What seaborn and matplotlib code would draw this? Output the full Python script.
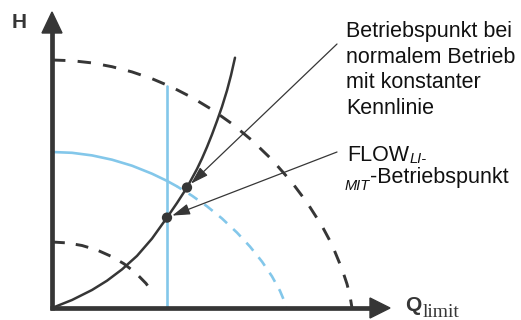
import matplotlib
matplotlib.use("Agg")
import matplotlib.pyplot as plt
from matplotlib.patches import Polygon
import seaborn as sns

# Pump characteristic curves (Q = flow, H = head), schematic units
outer_q = [0, 20, 40, 60, 80, 100, 120, 140, 160, 180, 200, 220, 240, 255,
           270, 280, 290, 295, 298, 300]
outer_h = [248, 247.3, 245.1, 241.3, 236.1, 229.3, 220.8, 210.5, 198.4, 184.2,
           167.6, 148.3, 125.5, 105.5, 82, 63.3, 39, 24, 12, 0]

limited_solid_q = [0, 20, 40, 60, 80, 100, 115, 125]
limited_solid_h = [156, 155.2, 152.6, 148.3, 142.3, 134.3, 127.1, 121.6]
limited_dash_q = [125, 140, 155, 170, 185, 198, 210, 220, 228, 232, 234]
limited_dash_h = [121.6, 112.3, 101.7, 89.5, 75.4, 61.4, 46.4, 31.6, 17.1, 7.6, 0]

small_q = [0, 15, 30, 45, 60, 72, 84, 94, 101]
small_h = [66, 65.1, 62.5, 58, 51.3, 44.2, 34.8, 24.6, 15]

# System (pipe network) characteristic
system_q = [0, 10, 20, 30, 40, 55, 70, 85, 100, 115, 125, 135, 145, 150, 155,
            160, 165, 170, 175, 179, 183]
system_h = [0, 4, 8, 13, 18, 27.3, 38.6, 52.1, 69.4, 90.4, 105, 120.5, 139,
            149.5, 161, 173.5, 187, 201.3, 217.5, 232.7, 250.3]

# Flow limit
limit_q = [115, 115]
limit_h = [0, 222]

# Operating points: normal operation, FLOW_LIMIT
op_q = [135, 115]
op_h = [120.5, 90.4]

DARK = "#363636"
BLUE = "#83c7ea"
TEXT = "#111111"

sns.set_theme(style="white")
plt.rcParams["font.family"] = ["Liberation Sans", "DejaVu Sans"]

fig = plt.figure(figsize=(5.21, 3.2), dpi=100)
ax = fig.add_axes([0, 0, 1, 1])
ax.set_xlim(-52, 469)
ax.set_ylim(-12, 308)
ax.axis("off")

# Curves
sns.lineplot(x=outer_q, y=outer_h, estimator=None, sort=False, color=DARK,
             lw=2.1, linestyle=(0, (4.6, 4.2)), ax=ax)
sns.lineplot(x=small_q, y=small_h, estimator=None, sort=False, color=DARK,
             lw=2.1, linestyle=(0, (4.4, 3.8)), ax=ax)
sns.lineplot(x=limited_solid_q, y=limited_solid_h, estimator=None, sort=False,
             color=BLUE, lw=1.9, ax=ax)
sns.lineplot(x=limited_dash_q, y=limited_dash_h, estimator=None, sort=False,
             color=BLUE, lw=1.9, linestyle=(2, (4.0, 3.2)), ax=ax)
sns.lineplot(x=limit_q, y=limit_h, estimator=None, sort=False,
             color=BLUE, lw=1.9, ax=ax)
sns.lineplot(x=system_q, y=system_h, estimator=None, sort=False, color=DARK,
             lw=1.8, ax=ax)
sns.scatterplot(x=op_q, y=op_h, color=DARK, s=55, edgecolor="none", zorder=5, ax=ax)

# Axes with arrow heads
ax.plot([0, 0], [-2, 276], color=DARK, lw=3.4, solid_capstyle="butt", zorder=6)
ax.plot([-2.4, 319], [0, 0], color=DARK, lw=3.4, solid_capstyle="butt", zorder=6)
ax.add_patch(Polygon([[-10, 275], [10, 275], [0, 296]], closed=True,
                     color=DARK, zorder=6))
ax.add_patch(Polygon([[318, -10], [318, 10], [338, 0]], closed=True,
                     color=DARK, zorder=6))

ax.text(-40, 280, "H", fontsize=15, fontweight="bold", color=DARK,
        ha="left", va="baseline")
ax.text(353, -3, "Q", fontsize=15, fontweight="bold", color=DARK,
        ha="left", va="baseline")
ax.text(371, -9, "limit", fontsize=14, color=DARK, ha="left", va="baseline",
        family=["Liberation Serif", "DejaVu Serif"])

# Annotations
arrow = dict(arrowstyle="-|>,head_length=0.9,head_width=0.28", color=DARK,
             lw=0.9, shrinkA=0, shrinkB=4)
ax.annotate("", xy=(op_q[0], op_h[0]), xytext=(285, 264), arrowprops=arrow)
ax.annotate("", xy=(op_q[1], op_h[1]), xytext=(285, 156), arrowprops=arrow)

FS = 15.5
lines = ["Betriebspunkt bei", "normalem Betrieb", "mit konstanter", "Kennlinie"]
for i, s in enumerate(lines):
    ax.text(294, 271 - 25.7 * i, s, fontsize=FS, color=TEXT, ha="left", va="baseline")

renderer = fig.canvas.get_renderer()
inv = ax.transData.inverted()
t1 = ax.text(295, 147, "FLOW", fontsize=FS, color=TEXT, ha="left", va="baseline")
x1 = inv.transform((t1.get_window_extent(renderer).x1, 0))[0]
ax.text(x1 + 0.5, 145, "LI-", fontsize=10.5, style="italic", color=TEXT,
        ha="left", va="baseline")
t2 = ax.text(293, 118, "MIT", fontsize=10.5, style="italic", color=TEXT,
             ha="left", va="baseline")
x2 = inv.transform((t2.get_window_extent(renderer).x1, 0))[0]
ax.text(x2 - 0.5, 125, "-Betriebspunkt", fontsize=FS, color=TEXT,
        ha="left", va="baseline")

fig.savefig("out.png", dpi=100)
